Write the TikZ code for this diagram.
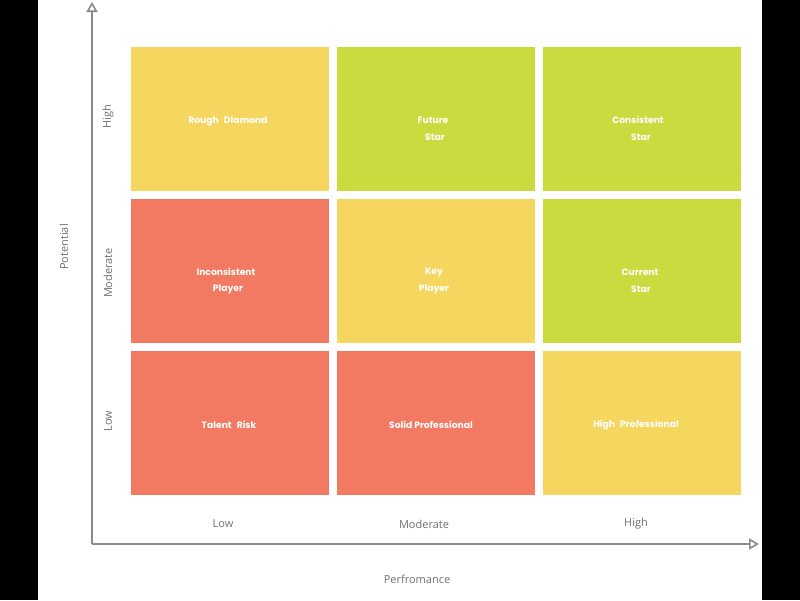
\documentclass[tikz,border=0pt]{standalone}
\usepackage{fontspec}
\setmainfont{Open Sans}
\newfontfamily\cellfont{Poppins}
\usetikzlibrary{arrows.meta}
\definecolor{cyel}{HTML}{F5D65E}
\definecolor{cgrn}{HTML}{CADB40}
\definecolor{cred}{HTML}{F27A62}
\definecolor{axgray}{HTML}{8A8A8A}
\definecolor{lblgray}{HTML}{707070}
\begin{document}
\begin{tikzpicture}[x=1pt,y=-1pt,
  cell/.style={draw=none,minimum width=198pt,minimum height=144pt,inner sep=0pt,outer sep=0pt},
  ctext/.style={text=white,font=\cellfont\bfseries\fontsize{9.2}{11}\selectfont,inner sep=0pt},
  axlbl/.style={text=lblgray,font=\fontsize{11}{13}\selectfont,inner sep=0pt},
  axline/.style={draw=axgray,line width=2pt,-{Triangle[open,length=10pt,width=11pt,line width=1.6pt]}}]
\useasboundingbox (0,0) rectangle (800,600);
\fill[white] (0,0) rectangle (800,600);
\fill[black] (0,0) rectangle (38,600);
\fill[black] (762,0) rectangle (800,600);
% cells
\node[cell,fill=cyel] (c11) at (230,119) {};
\node[cell,fill=cgrn] (c12) at (436,119) {};
\node[cell,fill=cgrn] (c13) at (642,119) {};
\node[cell,fill=cred] (c21) at (230,271) {};
\node[cell,fill=cyel] (c22) at (436,271) {};
\node[cell,fill=cgrn] (c23) at (642,271) {};
\node[cell,fill=cred] (c31) at (230,423) {};
\node[cell,fill=cred] (c32) at (436,423) {};
\node[cell,fill=cyel] (c33) at (642,423) {};
% cell texts
\node[ctext] (t11) at (228,121) {Rough\hspace{0.55em}Diamond};
\node[ctext] (t12a) at (433,120) {Future};
\node[ctext] (t12b) at (435,137) {Star};
\node[ctext] (t13a) at (638,120) {Consistent};
\node[ctext] (t13b) at (641,137) {Star};
\node[ctext] (t21a) at (226,272) {Inconsistent};
\node[ctext] (t21b) at (228,289) {Player};
\node[ctext] (t22a) at (434,272) {Key};
\node[ctext] (t22b) at (434,289) {Player};
\node[ctext] (t23a) at (640,272) {Current};
\node[ctext] (t23b) at (641,289) {Star};
\node[ctext] (t31) at (229,425) {Talent\hspace{0.55em}Risk};
\node[ctext] (t32) at (431,425) {Solid Professional};
\node[ctext] (t33) at (636,425) {High\hspace{0.55em}Professional};
% axes
\coordinate (org) at (92,544);
\coordinate (ytip) at (92,2);
\coordinate (xtip) at (759,544);
\draw[axline] (org) -- (ytip);
\draw[axline] (org) -- (xtip);
% axis labels
\node[axlbl,rotate=90] (rhigh) at (108,117) {High};
\node[axlbl,rotate=90] (rmod) at (108,273) {Moderate};
\node[axlbl,rotate=90] (rlow) at (108,421) {Low};
\node[axlbl,rotate=90] (ypot) at (64,247) {Potential};
\node[axlbl] (clow) at (223,524) {Low};
\node[axlbl] (cmod) at (424,524) {Moderate};
\node[axlbl] (chigh) at (636,524) {High};
\node[axlbl] (xperf) at (417,579) {Perfromance};
\end{tikzpicture}
\end{document}
